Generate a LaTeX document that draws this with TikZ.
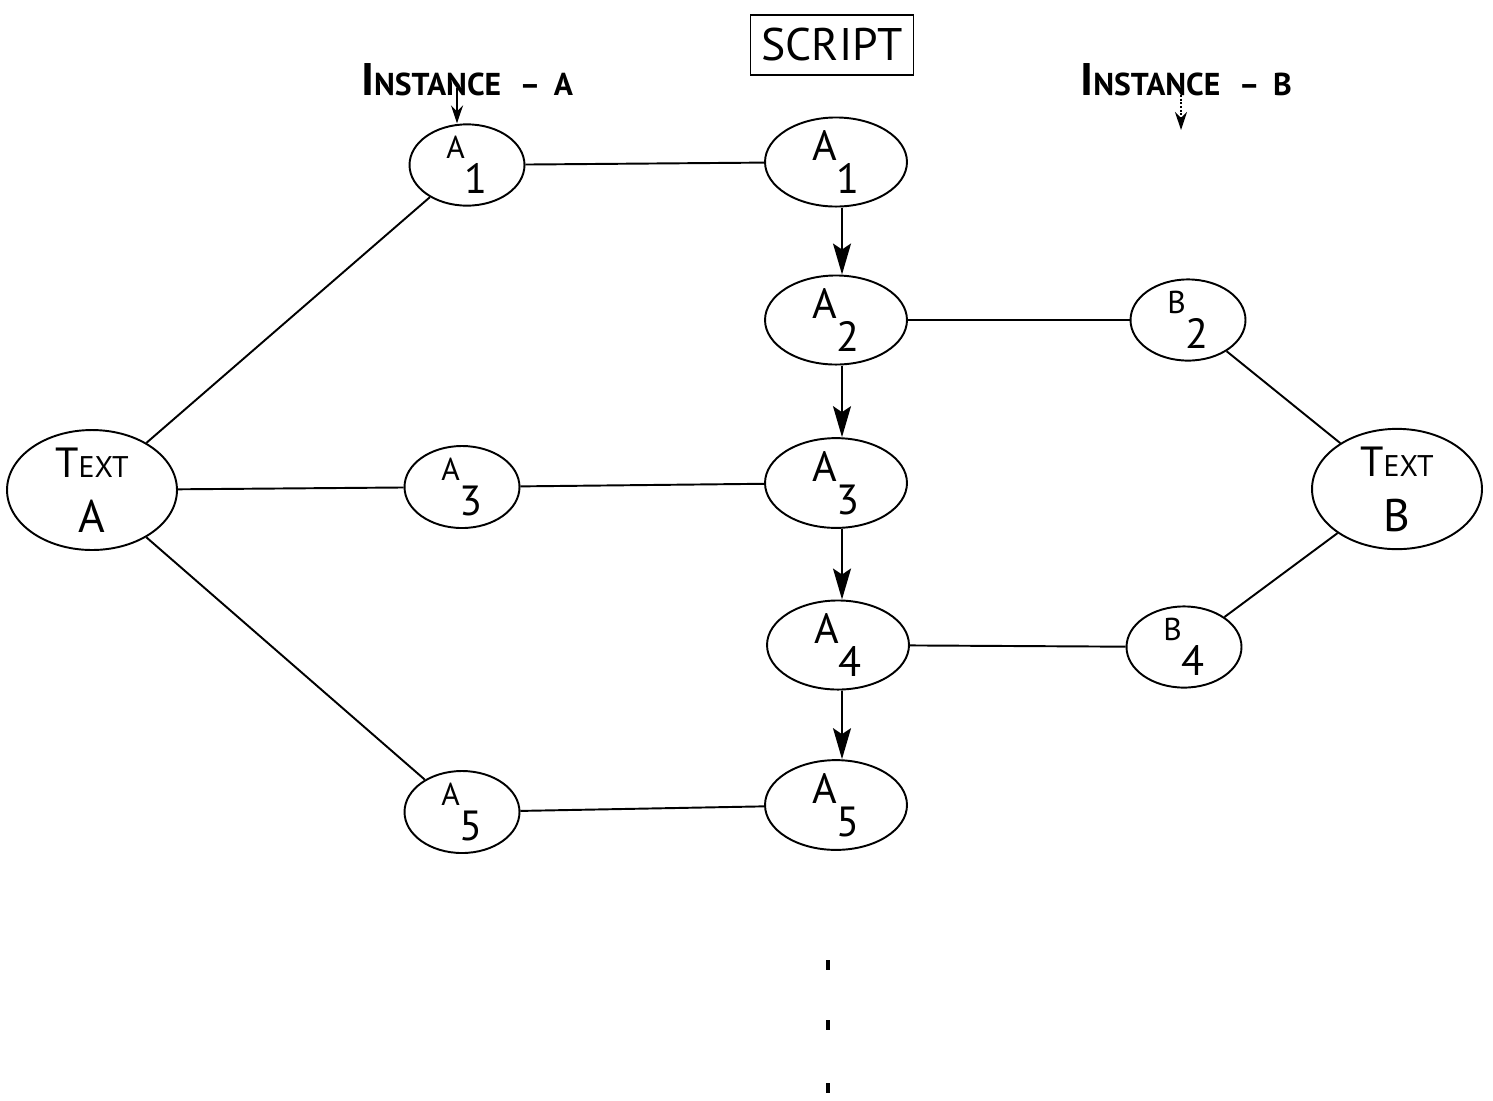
\documentclass[tikz,border=0pt]{standalone}
\usepackage{fontspec}
\setmainfont{PT Sans}
\usetikzlibrary{shapes.geometric,arrows.meta}
\newcommand{\fs}[1]{\fontsize{#1}{#1}\selectfont}
\newcommand{\biglab}[2]{\fs{24}\raisebox{0.33cm}{#1}\raisebox{-0.33cm}{#2}}
\newcommand{\smlab}[2]{\raisebox{0.4cm}{\fs{18}#1}\raisebox{-0.3cm}{\fs{24}#2}}
\tikzset{
  bigel/.style={ellipse, draw, line width=1.1pt, minimum width=2.84cm, minimum height=1.6cm, inner sep=0pt},
  smel/.style={ellipse, draw, line width=1.1pt, minimum width=2.3cm, minimum height=1.42cm, inner sep=0pt},
  txel/.style={ellipse, draw, line width=1.1pt, minimum width=3.4cm, minimum height=2.05cm, inner sep=0pt, align=center},
  conn/.style={line width=1.1pt},
  flow/.style={line width=1.1pt, -{Stealth[length=0.62cm, width=0.36cm, inset=0.12cm]}},
  lbl/.style={inner sep=0pt, font=\bfseries},
}
\begin{document}
\begin{tikzpicture}[x=0.02cm, y=-0.02cm]
\useasboundingbox (0,0) rectangle (1493,1100);

% title box
\node[draw, line width=1.1pt, minimum width=3.26cm, minimum height=1.2cm, inner sep=0pt] (script) at (832,45) {\fs{26}SCRIPT};

% instance labels
\node[lbl] (insA) at (467,80) {\fs{26}I\fs{18}NSTANCE \,\,– \,A};
\node[lbl] (insB) at (1186,80) {\fs{26}I\fs{18}NSTANCE \,\,– \,B};
\coordinate (ia) at (457,88);
\coordinate (ib1) at (1181,95);
\coordinate (ib2) at (1181,130);

% script column
\node[bigel] (s1) at (836,162) {\biglab{A}{1}};
\node[bigel] (s2) at (836,320) {\biglab{A}{2}};
\node[bigel] (s3) at (836,483) {\biglab{A}{3}};
\node[bigel] (s4) at (838,645) {\biglab{A}{4}};
\node[bigel] (s5) at (836,805) {\biglab{A}{5}};

% instance A
\node[smel] (a1) at (467,165) {\smlab{A}{1}};
\node[smel] (a3) at (462,487) {\smlab{A}{3}};
\node[smel] (a5) at (462,812) {\smlab{A}{5}};
\node[txel] (ta) at (92,490) {\fs{24}T\fs{17}EXT\\[12pt]\fs{26}A};

% instance B
\node[smel] (b2) at (1188,320) {\smlab{B}{2}};
\node[smel] (b4) at (1184,647) {\smlab{B}{4}};
\node[txel] (tb) at (1397,489) {\fs{24}T\fs{17}EXT\\[12pt]\fs{26}B};

% connectors
\draw[conn] (ta) -- (a1);
\draw[conn] (ta) -- (a3);
\draw[conn] (ta) -- (a5);
\draw[conn] (a1) -- (s1);
\draw[conn] (a3) -- (s3);
\draw[conn] (a5) -- (s5);
\draw[conn] (s2) -- (b2);
\draw[conn] (s4) -- (b4);
\draw[conn] (b2) -- (tb);
\draw[conn] (b4) -- (tb);

\draw[flow] ([xshift=0.12cm]s1.south) -- ([xshift=0.12cm]s2.north);
\draw[flow] ([xshift=0.12cm]s2.south) -- ([xshift=0.12cm]s3.north);
\draw[flow] ([xshift=0.12cm]s3.south) -- ([xshift=0.08cm]s4.north);
\draw[flow] ([xshift=0.08cm]s4.south) -- ([xshift=0.12cm]s5.north);

\draw[conn, -{Stealth[length=0.36cm, width=0.24cm]}] (ia) -- (ia |- a1.north);
\draw[conn, densely dotted, -{Stealth[length=0.36cm, width=0.24cm]}] (ib1) -- (ib2);

% continuation dots
\draw[line width=2pt] (828,960) -- (828,970);
\draw[line width=2pt] (828,1020) -- (828,1030);
\draw[line width=2pt] (828,1083) -- (828,1093);
\end{tikzpicture}
\end{document}
